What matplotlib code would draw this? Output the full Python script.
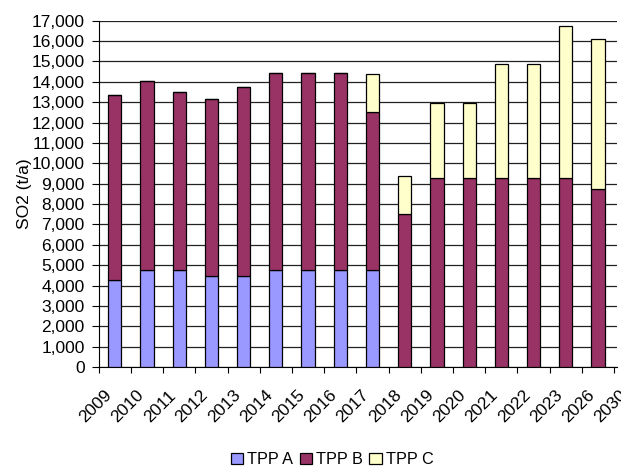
import matplotlib
matplotlib.use("Agg")
import matplotlib.pyplot as plt
import matplotlib.transforms as mtransforms
import numpy as np

# labels sit on the boundaries between bars
years = ["2009", "2010", "2011", "2012", "2013", "2014", "2015", "2016", "2017",
         "2018", "2019", "2020", "2021", "2022", "2023", "2026", "2030"]
tpp_a = [4280, 4770, 4770, 4490, 4490, 4770, 4770, 4770, 4770,
         0, 0, 0, 0, 0, 0, 0]
tpp_b = [9090, 9270, 8730, 8660, 9270, 9660, 9660, 9660, 7730,
         7500, 9260, 9260, 9260, 9260, 9260, 8730]
tpp_c = [0, 0, 0, 0, 0, 0, 0, 0, 1860,
         1880, 3710, 3710, 5590, 5590, 7460, 7380]

plt.rcParams['font.family'] = ['Liberation Sans', 'DejaVu Sans']
fs = 12.5

fig = plt.figure(figsize=(6.21, 4.7), dpi=100)
ax = fig.add_axes([0.159, 0.219, 0.835, 0.737])

n = len(tpp_b)
x = np.arange(n)
a = np.array(tpp_a)
b = np.array(tpp_b)
c = np.array(tpp_c)
kw = dict(width=0.41, edgecolor='black', linewidth=0.9, zorder=3)
ax.bar(x, a, color='#9999FF', label='TPP A', **kw)
ax.bar(x, b, bottom=a, color='#993366', label='TPP B', **kw)
ax.bar(x, c, bottom=a + b, color='#FFFFCC', label='TPP C', **kw)

ax.set_ylim(0, 17000)
ax.set_xlim(-0.5, n - 0.5 + 0.1)
yt = np.arange(0, 17001, 1000)
ax.set_yticks(yt)
ax.set_yticklabels([f"{v:,}" for v in yt], fontsize=fs)
ax.yaxis.grid(True, color='#222222', linewidth=0.9, zorder=0)
ax.set_axisbelow(True)

ax.set_xticks(np.arange(len(years)) - 0.5)
ax.set_xticklabels(years, rotation=45, ha='right', rotation_mode='anchor', fontsize=fs)
ax.tick_params(axis='x', length=4, color='black', pad=5)
ax.tick_params(axis='y', length=5, color='black', pad=5)
shift = mtransforms.ScaledTranslation(0.05, -0.08, fig.dpi_scale_trans)
for lab in ax.get_xticklabels():
    lab.set_transform(lab.get_transform() + shift)

ax.spines['top'].set_visible(False)
ax.spines['right'].set_visible(False)

ax.set_ylabel("SO2 (t/a)", fontsize=fs, labelpad=0)

fig.legend(loc='lower center', bbox_to_anchor=(0.535, -0.025), ncol=3, frameon=False,
           fontsize=11.7, handlelength=0.75, handleheight=0.75, handletextpad=0.25,
           columnspacing=0.4)

fig.savefig("out.png", dpi=100)
